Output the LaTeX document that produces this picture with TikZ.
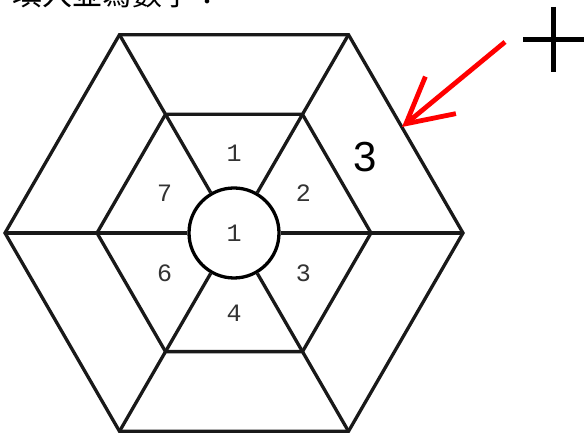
\documentclass[tikz,border=0pt]{standalone}
\usepackage{fontspec}
\setmainfont{Liberation Sans}
\newfontfamily\monofnt{Liberation Mono}
\newfontfamily\cjkfnt{Noto Sans CJK TC}
\usetikzlibrary{arrows.meta,calc}
\tikzset{
  x=1pt, y=1pt,
  edge/.style={line width=3.3pt, line join=miter, black!90},
  innum/.style={font=\monofnt\fontsize{25}{25}\selectfont, text=black!80, inner sep=0pt},
  bignum/.style={font=\fontsize{42}{42}\selectfont, inner sep=0pt},
  redarrow/.style={draw=red, line width=4.8pt, -{Straight Barb[length=45pt, width=48pt, line width=4.8pt]}},
  plusline/.style={line width=5pt, black}
}
\begin{document}
\begin{tikzpicture}
\useasboundingbox (0,0) rectangle (584,435);
\clip (0,0) rectangle (584,435);
\fill[white] (0,0) rectangle (584,435);
% header text (cut off at top, as in the reference)
\node[anchor=base west, inner sep=0pt, font=\cjkfnt\fontsize{30}{30}\selectfont] (title) at (12,429) {填入並寫數字：};
% hexagon
\coordinate (C) at (234,202);
\foreach \a in {0,60,...,300} {
  \coordinate (O\a) at ($(C)+(\a:229)$);
  \coordinate (I\a) at ($(C)+(\a:137)$);
}
\node[circle, draw, line width=3.3pt, minimum size=90pt, inner sep=0pt, innum] (mid) at (C) {1};
\draw[edge] (O0) -- (O60) -- (O120) -- (O180) -- (O240) -- (O300) -- cycle;
\draw[edge] (I0) -- (I60) -- (I120) -- (I180) -- (I240) -- (I300) -- cycle;
\foreach \a in {0,60,...,300} {
  \draw[edge] (mid.\a) -- (O\a);
}
% numbers
\node[innum] (n1) at ($(C)+(90:80)$) {1};
\node[innum] (n2) at ($(C)+(30:80)$) {2};
\node[innum] (n3) at ($(C)+(-30:80)$) {3};
\node[innum] (n4) at ($(C)+(-90:80)$) {4};
\node[innum] (n6) at ($(C)+(210:80)$) {6};
\node[innum] (n7) at ($(C)+(150:80)$) {7};
\node[bignum] (big) at (365,278) {3};
% red arrow
\coordinate (As) at (505,393);
\coordinate (At) at (402,308);
\draw[redarrow] (As) -- (At);
% plus
\coordinate (Ph1) at (523,395);
\coordinate (Ph2) at (590,395);
\coordinate (Pv1) at (553,428);
\coordinate (Pv2) at (553,363);
\draw[plusline] (Ph1) -- (Ph2);
\draw[plusline] (Pv1) -- (Pv2);
\end{tikzpicture}
\end{document}
